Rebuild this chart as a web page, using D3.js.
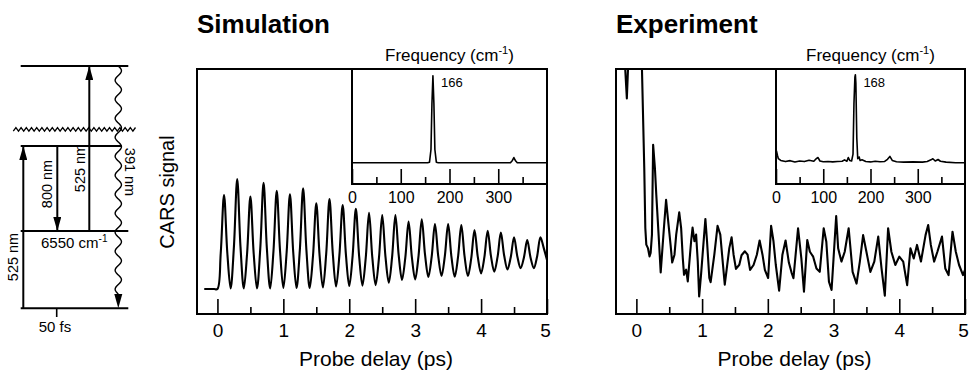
<!DOCTYPE html>
<html>
<head>
<meta charset="utf-8">
<script src="https://cdn.jsdelivr.net/npm/d3@7/dist/d3.min.js"></script>
<style>
  body { margin: 0; background: #fff; }
  svg text { font-family: "Liberation Sans", Arial, Helvetica, sans-serif; fill: #000; }
</style>
</head>
<body>
<script>
// ---- data ----
const delayTicks = [0, 1, 2, 3, 4, 5];
const delayMinor = [0.5, 1.5, 2.5, 3.5, 4.5];
const freqTicks = [0, 100, 200, 300];
const freqMinor = [50, 150, 250, 350];

// simulation trace, sampled every 0.05 ps from -0.2 ps
const simStart = -0.2, simStep = 0.05;
const simSignal = [
  10.2, 10.2, 10.2, 10.2, 10.2,
  24.8, 48.6, 24.9, 10.4,  27.4, 55.1, 27.4, 10.4,  24.7, 47.9, 24.7, 10.4,
  26.8, 53.6, 26.8, 10.4,  25.6, 50.3, 25.7, 10.6,  25.2, 48.9, 25.2, 10.6,
  26.1, 51.3, 26.1, 10.6,  23.7, 45.2, 23.8, 10.8,  24.5, 46.9, 24.8, 11.2,
  23.9, 44.5, 24.0, 11.4,  23.4, 42.9, 23.5, 11.6,  22.9, 41.3, 23.0, 11.8,
  22.7, 40.4, 23.2, 12.8,  23.3, 40.4, 24.0, 13.9,  22.9, 37.7, 23.1, 14.1,
  23.4, 38.7, 24.1, 15.1,  23.3, 36.7, 23.6, 15.5,  23.6, 36.7, 23.4, 15.2,
  23.2, 36.3, 23.4, 15.5,  22.6, 34.3, 23.3, 16.6,  23.2, 34.0, 23.6, 17.3,
  23.3, 33.2, 23.9, 18.2,  23.2, 31.3, 23.5, 18.7,  23.1, 30.2, 23.1, 18.7,
  23.5, 31.3, 27.0, 22.0
];

// experiment trace
const expDelay = [
  -0.31, -0.18, -0.145, -0.12, 0.0, 0.085, 0.12, 0.136, 0.151, 0.176, 0.2, 0.217, 0.237, 0.255,
  0.282, 0.303, 0.338, 0.37, 0.419, 0.452, 0.479, 0.52, 0.545, 0.58, 0.606, 0.652, 0.681,
  0.706, 0.725, 0.757, 0.782, 0.833, 0.855, 0.883, 0.909, 0.934, 0.955, 0.984, 1.05, 1.075,
  1.11, 1.13, 1.186, 1.235, 1.277, 1.313, 1.345, 1.414, 1.449, 1.479, 1.515, 1.566, 1.6,
  1.651, 1.692, 1.73, 1.783, 1.833, 1.875, 1.919, 1.955, 2.005, 2.05, 2.086, 2.121, 2.172,
  2.222, 2.27, 2.32, 2.36, 2.39, 2.46, 2.51, 2.55, 2.6, 2.64, 2.69, 2.74, 2.79, 2.85, 2.89,
  2.93, 2.97, 3.0, 3.04, 3.07, 3.12, 3.17, 3.23, 3.29, 3.35, 3.4, 3.45, 3.5, 3.56, 3.62,
  3.68, 3.73, 3.78, 3.83, 3.88, 3.94, 4.0, 4.06, 4.12, 4.17, 4.22, 4.27, 4.33, 4.4, 4.44,
  4.48, 4.53, 4.58, 4.65, 4.7, 4.75, 4.81, 4.86, 4.91, 4.97, 5.0
];
const expSignal = [
  140, 105, 88, 105, 140, 100, 59.6, 35.1, 28.3, 26.9, 23.5, 24.9, 32.4, 69.1,
  59.6, 48.7, 32.4, 17.0, 35.1, 46.6, 39.2, 28.3, 21.0, 24.2, 32.4, 41.5, 35.1,
  22.9, 16.0, 18.1, 13.3, 29.7, 35.3, 29.7, 32.4, 21.5, 7.2, 16.1, 38.8, 29.7,
  14.7, 13.0, 24.2, 36.0, 32.4, 21.5, 12.0, 26.9, 31.3, 24.2, 18.4, 20.1, 24.0,
  25.6, 24.2, 18.0, 20.0, 24.2, 30.0, 24.2, 18.0, 14.7, 36.0, 29.7, 20.1, 9.5,
  24.2, 30.0, 21.0, 17.0, 14.6, 35.0, 22.7, 9.1, 30.2, 25.4, 23.4, 18.6, 17.2, 35.0, 29.5,
  13.2, 9.8, 22.7, 40.0, 26.8, 21.4, 25.4, 35.0, 17.2, 12.4, 21.4, 32.2, 25.4, 17.2, 21.4,
  31.6, 18.6, 7.5, 35.0, 25.4, 20.0, 23.4, 21.4, 11.8, 26.8, 22.7, 28.2, 21.4, 32.2, 36.3,
  28.2, 21.4, 25.4, 31.6, 18.6, 15.9, 33.6, 25.4, 20.0, 15.9, 18.0
];

// inset spectra (frequency cm-1, amplitude)
const simFreq = [0, 155, 159, 162, 164, 166, 168, 170, 173, 177, 325, 329, 332, 335, 339, 400];
const simAmp  = [18.5, 18.5, 19, 30, 70, 94, 70, 30, 19, 18.5, 18.5, 20.5, 23, 20.5, 18.5, 18.5];

const expFreq = [0, 1, 3, 5, 10, 20, 30, 40, 50, 60, 70, 80, 85, 89, 93, 100, 110, 120, 130, 140,
  145, 150, 153, 156, 160, 163, 165, 167, 168, 169, 171, 173, 176, 178, 182, 190, 200, 210,
  220, 230, 236, 241, 246, 255, 270, 290, 310, 320, 328, 332, 337, 343, 348, 360, 380, 400];
const expAmp = [19, 28.7, 25, 22, 20.5, 19.5, 20.3, 19.2, 20, 19.5, 20.6, 19.8, 22, 23, 20, 19.3,
  19.6, 19.2, 19.5, 19.8, 21, 19.8, 23, 20.5, 20, 26, 70, 93, 95, 88, 40, 22, 23.5, 20.5, 21,
  19.5, 19.2, 19.8, 19.4, 19.6, 21.5, 24, 20.5, 19.4, 19.0, 19.2, 19.0, 19.6, 21, 22, 20, 21.3,
  19.8, 19, 18.5, 18.5];

// ---- page ----
const width = 969, height = 370;
const svg = d3.select("body").append("svg")
  .attr("width", width).attr("height", height);

const defs = svg.append("defs");
defs.append("marker").attr("id", "head")
  .attr("markerUnits", "userSpaceOnUse")
  .attr("markerWidth", 14).attr("markerHeight", 8)
  .attr("refX", 14).attr("refY", 4).attr("orient", "auto")
  .append("path").attr("d", "M0,0 L14,4 L0,8 Z").attr("fill", "#000");

function drawPanel(opt) {
  const x = d3.scaleLinear().domain([-0.31, 5.0]).range([opt.left, opt.right]);
  const y = d3.scaleLinear().domain([0, 100]).range([314, 69]);
  const fx = d3.scaleLinear().domain([0, 400]).range([opt.insetLeft, opt.right]);
  const fy = d3.scaleLinear().domain([0, 100]).range([184, 69]);
  const g = svg.append("g");

  g.append("clipPath").attr("id", opt.id + "-clip")
    .append("rect").attr("x", opt.left).attr("y", 69)
    .attr("width", opt.right - opt.left).attr("height", 245);

  g.append("text").attr("x", opt.left).attr("y", 33)
    .style("font-size", "26px").style("font-weight", "bold").text(opt.title);

  // trace
  g.append("path")
    .datum(opt.delay.map((d, i) => [d, opt.signal[i]]))
    .attr("clip-path", "url(#" + opt.id + "-clip)")
    .attr("fill", "none").attr("stroke", "#000").attr("stroke-width", 2.1)
    .attr("stroke-linejoin", "round")
    .attr("d", d3.line().x(d => x(d[0])).y(d => y(d[1])).curve(opt.curve));

  // bottom ticks, pointing inward
  const major = g.append("g").attr("transform", "translate(0,314)")
    .call(d3.axisBottom(x).tickValues(delayTicks).tickSize(-15).tickPadding(10).tickFormat(d3.format("d")));
  g.append("g").attr("transform", "translate(0,314)")
    .call(d3.axisBottom(x).tickValues(delayMinor).tickSize(-7).tickFormat(""));
  g.selectAll(".domain").remove();
  g.selectAll(".tick line").attr("stroke-width", 1.6);
  major.selectAll("text").style("font-size", "19px")
    .attr("dx", d => d === 5 ? -2 : 0);

  g.append("text").attr("x", (opt.left + opt.right) / 2 + 4).attr("y", 366)
    .attr("text-anchor", "middle").style("font-size", "21px").text("Probe delay (ps)");

  // inset
  const inset = g.append("g");
  inset.append("rect").attr("x", opt.insetLeft).attr("y", 69)
    .attr("width", opt.right - opt.insetLeft).attr("height", 115).attr("fill", "#fff");
  inset.append("path")
    .datum(opt.freq.map((d, i) => [d, opt.amp[i]]))
    .attr("fill", "none").attr("stroke", "#000").attr("stroke-width", 1.6)
    .attr("stroke-linejoin", "round")
    .attr("d", d3.line().x(d => fx(d[0])).y(d => fy(d[1])));
  const iax = inset.append("g").attr("transform", "translate(0,184)")
    .call(d3.axisBottom(fx).tickValues(freqTicks).tickSize(-15).tickPadding(8).tickFormat(d3.format("d")));
  inset.append("g").attr("transform", "translate(0,184)")
    .call(d3.axisBottom(fx).tickValues(freqMinor).tickSize(-7).tickFormat(""));
  inset.selectAll(".domain").remove();
  inset.selectAll(".tick line").attr("stroke-width", 1.6);
  iax.selectAll("text").style("font-size", "16px");
  inset.append("path")
    .attr("d", `M${opt.insetLeft},69 V184 H${opt.right}`)
    .attr("fill", "none").attr("stroke", "#000").attr("stroke-width", 2);
  inset.append("text").attr("x", fx(opt.peak) + 8).attr("y", 87)
    .style("font-size", "13px").text(opt.peak);

  const ft = inset.append("text").attr("x", (opt.insetLeft + opt.right) / 2).attr("y", 61)
    .attr("text-anchor", "middle").style("font-size", "17px");
  ft.append("tspan").text("Frequency (cm");
  ft.append("tspan").attr("dy", -7).style("font-size", "11px").text("-1");
  ft.append("tspan").attr("dy", 7).text(")");

  // frame
  g.append("rect").attr("x", opt.left).attr("y", 69)
    .attr("width", opt.right - opt.left).attr("height", 245)
    .attr("fill", "none").attr("stroke", "#000").attr("stroke-width", 2);
}

drawPanel({
  id: "sim", title: "Simulation", left: 197, right: 547, insetLeft: 352,
  delay: simSignal.map((d, i) => simStart + i * simStep), signal: simSignal,
  curve: d3.curveCatmullRom.alpha(0.5),
  freq: simFreq, amp: simAmp, peak: 166
});
drawPanel({
  id: "exp", title: "Experiment", left: 616, right: 965, insetLeft: 776,
  delay: expDelay, signal: expSignal, curve: d3.curveLinear,
  freq: expFreq, amp: expAmp, peak: 168
});

svg.append("text").attr("transform", "translate(174,192) rotate(-90)")
  .attr("text-anchor", "middle").style("font-size", "20px").text("CARS signal");

// ---- energy level scheme ----
const levels = [
  { y: 66, x1: 20.7, x2: 128.3 },
  { y: 146, x1: 20.7, x2: 121.7 },
  { y: 231, x1: 20.7, x2: 128.3 },
  { y: 308.3, x1: 20.7, x2: 128.3 }
];
const scheme = svg.append("g").attr("stroke", "#000").attr("fill", "none");
scheme.selectAll("line.level").data(levels).enter().append("line")
  .attr("class", "level")
  .attr("x1", d => d.x1).attr("x2", d => d.x2)
  .attr("y1", d => d.y).attr("y2", d => d.y).attr("stroke-width", 2);

// zigzag continuum line
const zig = d3.range(0, 48).map(i => [13.3 + i * 2.6, 129.3 + (i % 2 ? -1.8 : 1.8)]);
scheme.append("path").attr("d", d3.line()(zig)).attr("stroke-width", 1.3);

// wavy emission
const wave = d3.range(0, 229).map(i => [118.3 + 3.2 * Math.sin(i / 19 * 2 * Math.PI), 66 + i]);
scheme.append("path").attr("d", d3.line().curve(d3.curveBasis)(wave)).attr("stroke-width", 1.4);
scheme.append("path").attr("d", "M114.3,294 L122.3,294 L118.3,308.3 Z").attr("fill", "#000").attr("stroke", "none");

const arrows = [
  { x: 23.3, y1: 308.3, y2: 146 },
  { x: 57.3, y1: 146, y2: 231 },
  { x: 89.3, y1: 231, y2: 66 }
];
scheme.selectAll("line.arrow").data(arrows).enter().append("line")
  .attr("class", "arrow")
  .attr("x1", d => d.x).attr("x2", d => d.x)
  .attr("y1", d => d.y1).attr("y2", d => d.y2)
  .attr("stroke-width", 2).attr("marker-end", "url(#head)");
scheme.append("line").attr("x1", 56.7).attr("x2", 56.7).attr("y1", 308).attr("y2", 317).attr("stroke-width", 1.6);

const labels = [
  { x: 13.3, y: 257, r: -90, t: "525 nm" },
  { x: 46.7, y: 184, r: -90, t: "800 nm" },
  { x: 80, y: 168, r: -90, t: "525 nm" },
  { x: 129.5, y: 172, r: 90, t: "391 nm" }
];
svg.selectAll("text.lab").data(labels).enter().append("text")
  .attr("class", "lab")
  .attr("transform", d => `translate(${d.x},${d.y}) rotate(${d.r})`)
  .attr("text-anchor", "middle").attr("dominant-baseline", "central")
  .style("font-size", "14.5px").text(d => d.t);

const wn = svg.append("text").attr("x", 41).attr("y", 248).style("font-size", "15px");
wn.append("tspan").text("6550 cm");
wn.append("tspan").attr("dy", -6).style("font-size", "10px").text("-1");

svg.append("text").attr("x", 55).attr("y", 332).attr("text-anchor", "middle")
  .style("font-size", "15px").text("50 fs");
</script>
</body>
</html>
